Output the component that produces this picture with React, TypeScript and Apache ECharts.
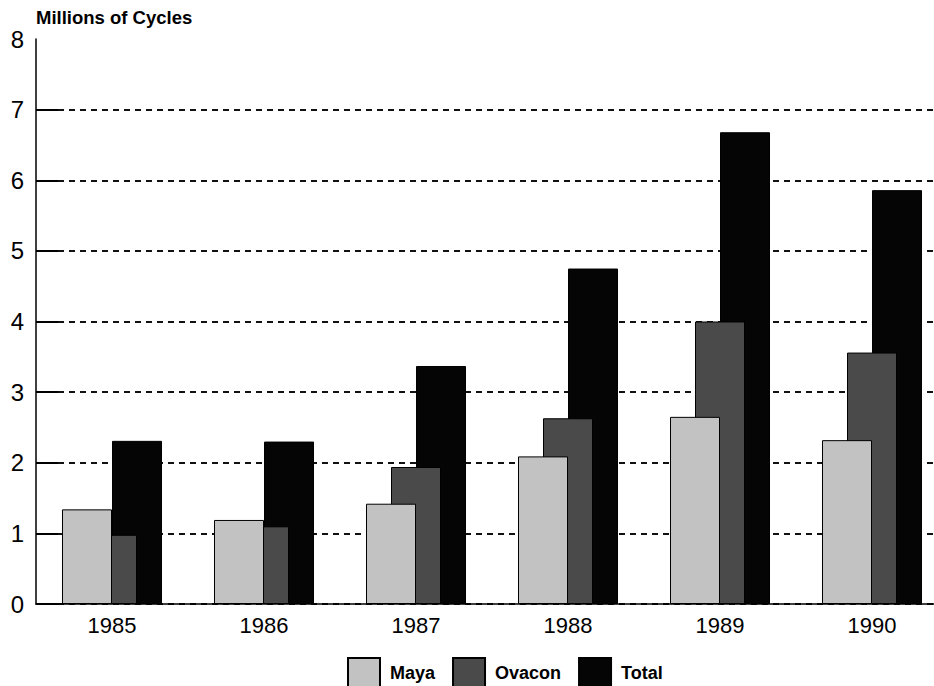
import React, { useEffect, useRef } from "react";
import * as echarts from "echarts";

const years = ["1985", "1986", "1987", "1988", "1989", "1990"];
const maya = [1.34, 1.19, 1.42, 2.09, 2.65, 2.32];
const ovacon = [0.98, 1.1, 1.94, 2.63, 4.0, 3.56];
const total = [2.31, 2.3, 3.37, 4.75, 6.68, 5.86];
const yTicks = [0, 1, 2, 3, 4, 5, 6, 7];

const FONT = "'Liberation Sans', Arial, Helvetica, sans-serif";

export default function App() {
  const ref = useRef<HTMLDivElement>(null);
  useEffect(() => {
    if (!ref.current) return;
    const chart = echarts.init(ref.current, null, { renderer: "svg" });
    const bar = (name: string, data: number[], color: string, z: number) => ({
      name,
      type: "bar",
      data,
      barWidth: 50,
      barGap: "-50%",
      z,
      itemStyle: { color, borderColor: "#000", borderWidth: 1 },
    });
    chart.setOption({
      animation: false,
      backgroundColor: "#fff",
      textStyle: { fontFamily: FONT },
      title: {
        text: "Millions of Cycles",
        left: 36,
        top: 8,
        padding: 0,
        textStyle: { fontSize: 18.5, fontWeight: "bold", color: "#000", fontFamily: FONT },
      },
      grid: {
        left: 36,
        width: 912,
        top: 39,
        bottom: 82,
        containLabel: false,
        outerBoundsMode: "none",
      },
      legend: {
        left: 347,
        top: 657,
        itemWidth: 32,
        itemHeight: 30,
        itemGap: 17,
        icon: "rect",
        padding: 0,
        textStyle: {
          fontSize: 18,
          fontWeight: "bold",
          color: "#000",
          fontFamily: FONT,
          padding: [0, 0, 0, 5],
        },
        data: ["Maya", "Ovacon", "Total"],
      },
      xAxis: {
        type: "category",
        data: years,
        axisLine: { lineStyle: { color: "#000", width: 1.5 } },
        axisTick: { show: false },
        axisLabel: { fontSize: 22, color: "#000", margin: 10, fontFamily: FONT },
      },
      yAxis: {
        type: "value",
        min: 0,
        max: 8,
        interval: 1,
        axisLine: { show: true, lineStyle: { color: "#000", width: 1.5 } },
        axisTick: {
          show: true,
          inside: true,
          length: 22,
          customValues: yTicks,
          lineStyle: { color: "#000", width: 2 },
        },
        axisLabel: { fontSize: 24, color: "#000", margin: 12, fontFamily: FONT },
        splitLine: {
          show: true,
          lineStyle: { color: "#111", width: 2, type: [6, 5] },
        },
      },
      series: [
        bar("Maya", maya, "#c2c2c2", 4),
        bar("Ovacon", ovacon, "#4a4a4a", 3),
        bar("Total", total, "#050505", 2),
      ],
    });
    return () => chart.dispose();
  }, []);
  return (
    <div
      ref={ref}
      style={{ position: "fixed", left: 0, top: 0, width: 934, height: 686, background: "#fff" }}
    />
  );
}
